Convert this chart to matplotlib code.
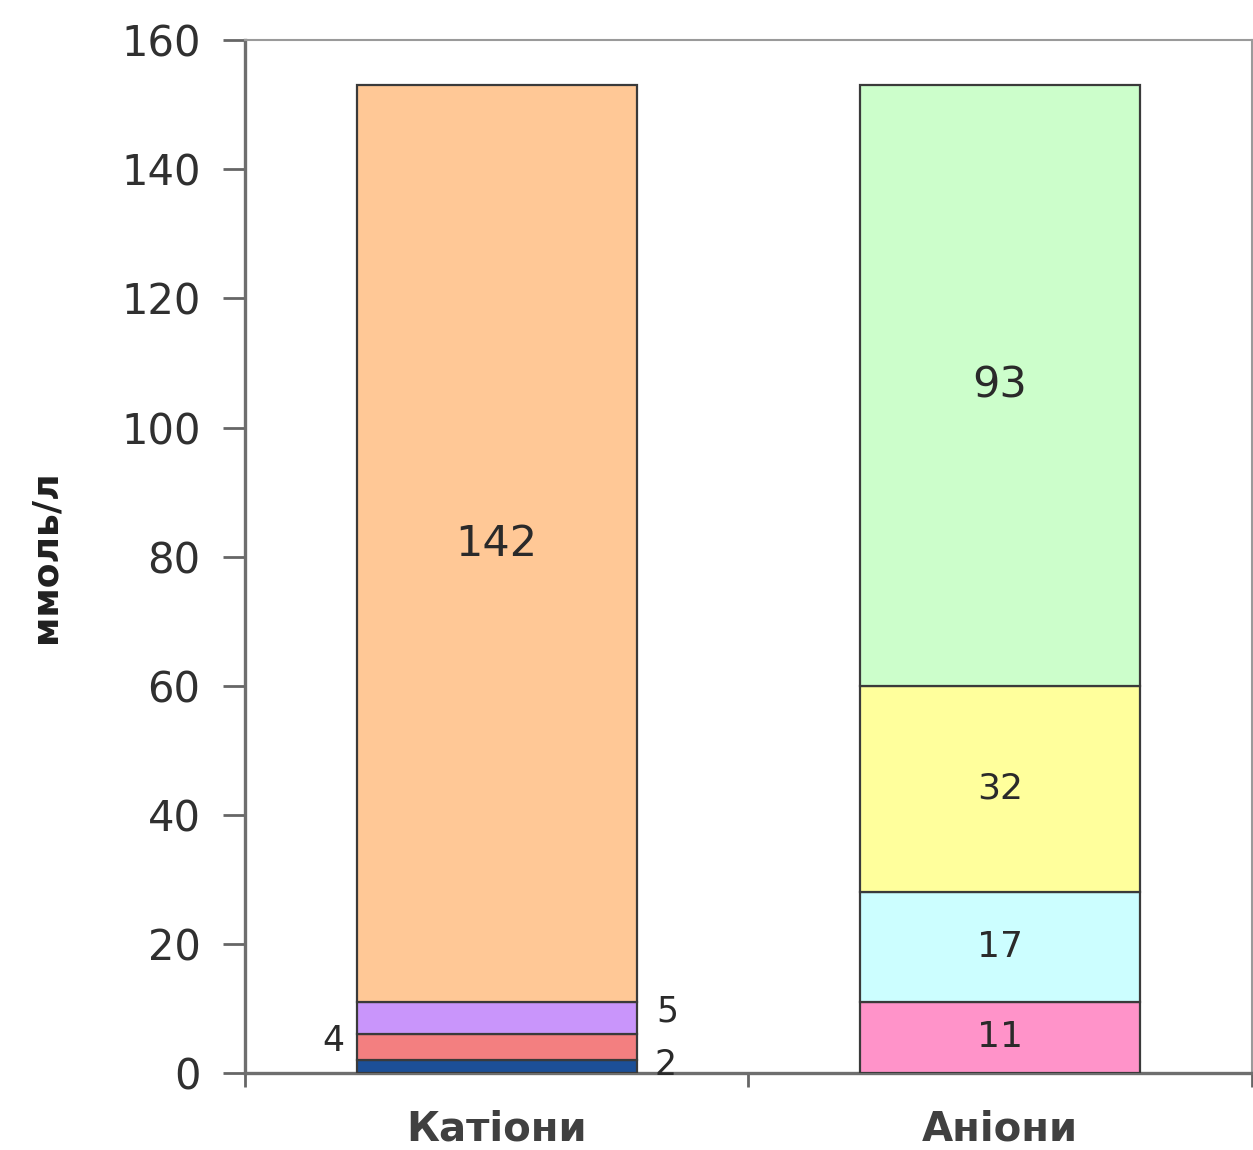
import matplotlib.pyplot as plt
import numpy as np

plt.rcParams["font.family"] = ["DejaVu Sans"]

categories = ["Катіони", "Аніони"]

# stacked segments from bottom to top
cation_values = [2, 4, 5, 142]
cation_colors = ["#1c4f97", "#f37f80", "#c995fb", "#ffc896"]
anion_values = [11, 17, 32, 93]
anion_colors = ["#ff93c9", "#ccfeff", "#ffff9c", "#ccfecb"]

y_ticks = [0, 20, 40, 60, 80, 100, 120, 140, 160]


def draw_stack(ax, x, values, colors, width=0.556):
    bottom = 0
    bars = []
    for v, c in zip(values, colors):
        b = ax.bar(x, v, width, bottom=bottom, color=c,
                   edgecolor="#3a3a3a", linewidth=1.6, zorder=3)
        bars.append((b[0], bottom, v))
        bottom += v
    return bars


fig = plt.figure(figsize=(12.53, 11.5), dpi=100)
ax = fig.add_axes([0.1955, 0.067, 0.8035, 0.898])

cat_bars = draw_stack(ax, 0, cation_values, cation_colors)
an_bars = draw_stack(ax, 1, anion_values, anion_colors)

half = 0.556 / 2
txt = dict(color="#2a2a2a", ha="center", va="center")

# small cation values sit beside the bar
blue, red, purple, orange = cat_bars
ax.text(half + 0.035, blue[1] + blue[2] / 2 + 0.3, str(blue[2]),
        fontsize=25, color="#2a2a2a", ha="left", va="center")
ax.text(-half - 0.025, red[1] + red[2] / 2 + 1, str(red[2]),
        fontsize=25, color="#2a2a2a", ha="right", va="center")
ax.text(half + 0.04, purple[1] + purple[2] / 2 + 1, str(purple[2]),
        fontsize=25, color="#2a2a2a", ha="left", va="center")
ax.text(0, orange[1] + orange[2] / 2, str(orange[2]), fontsize=31, **txt)

for bar, base, v in an_bars:
    ax.text(1, base + v / 2, str(v), fontsize=31 if v > 50 else 26, **txt)

ax.set_xlim(-0.5, 1.5)
ax.set_ylim(0, 160)
ax.set_yticks(y_ticks)
ax.set_yticklabels([str(t) for t in y_ticks], fontsize=30, color="#303030")
ax.tick_params(axis="y", direction="out", length=16, width=2,
               color="#666666", pad=16)

ax.set_xticks([-0.5, 0.5, 1.5])
ax.set_xticklabels(["", "", ""])
ax.tick_params(axis="x", which="major", direction="out", length=10, width=2,
               color="#666666")
ax.set_xticks([0, 1], minor=True)
ax.set_xticklabels(categories, minor=True, fontsize=29, color="#404040",
                   fontweight="bold")
ax.tick_params(axis="x", which="minor", length=0, pad=26)

ax.set_ylabel("ммоль/л", fontsize=26, fontweight="bold", color="#202020",
              labelpad=42)

for side in ["left", "bottom"]:
    ax.spines[side].set_color("#6e6e6e")
    ax.spines[side].set_linewidth(2.4)
for side in ["top", "right"]:
    ax.spines[side].set_color("#9a9a9a")
    ax.spines[side].set_linewidth(1.5)

plt.savefig("out.png", dpi=100)
